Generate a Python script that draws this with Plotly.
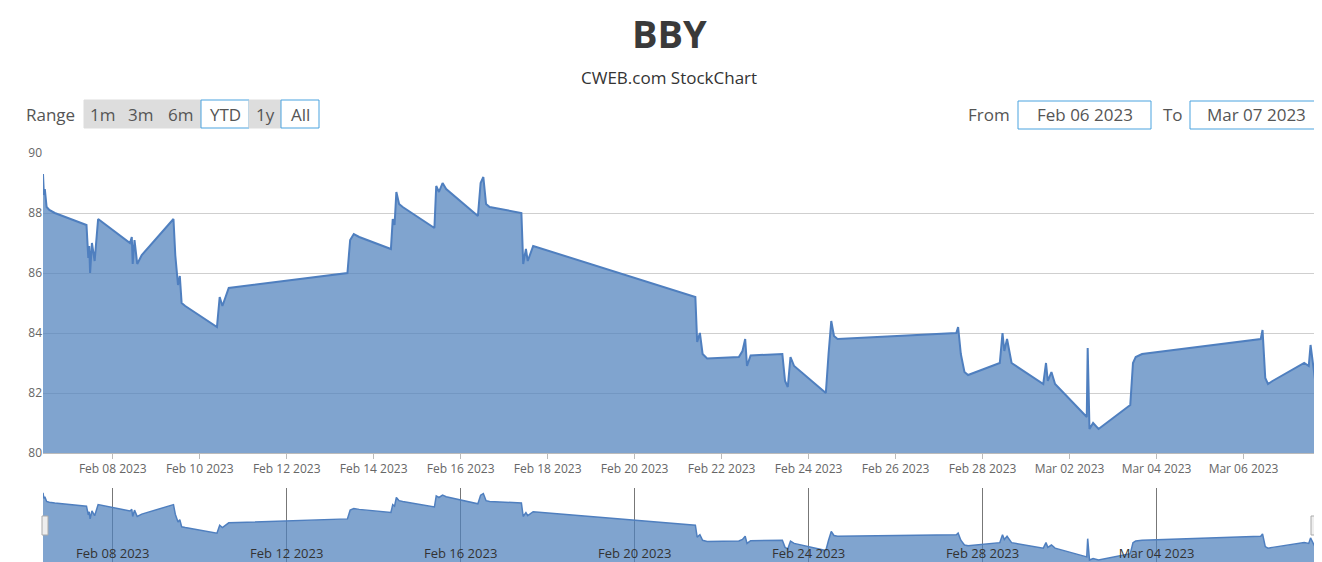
import plotly.graph_objects as go

days = {
 "2023-02-06": [("09:30",89.3),("10:00",88.6),("10:30",88.8),("11:30",88.2),("13:00",88.1),("16:00",88.0)],
 "2023-02-07": [("09:30",87.6),("10:30",86.5),("11:00",86.9),("11:30",86.0),("12:30",87.0),("14:00",86.4),("15:55",87.8)],
 "2023-02-08": [("09:30",87.0),("10:30",87.2),("11:00",86.3),("12:00",87.1),("13:30",86.3),("16:00",86.6)],
 "2023-02-09": [("09:30",87.8),("10:30",86.6),("12:00",85.6),("13:00",85.9),("14:00",85.0),("16:00",84.9)],
 "2023-02-10": [("09:30",84.2),("11:00",85.2),("12:30",84.9),("16:00",85.5)],
 "2023-02-13": [("09:30",86.0),("11:00",87.1),("13:00",87.3),("16:00",87.2)],
 "2023-02-14": [("09:30",86.8),("10:30",87.8),("11:30",87.6),("12:30",88.7),("14:00",88.3),("16:00",88.2)],
 "2023-02-15": [("09:30",87.5),("10:30",88.9),("12:00",88.7),("14:00",89.0),("16:00",88.8)],
 "2023-02-16": [("09:30",87.9),("11:00",89.0),("12:30",89.2),("14:00",88.3),("16:00",88.2)],
 "2023-02-17": [("09:30",88.0),("10:30",86.3),("12:00",86.8),("13:00",86.4),("16:00",86.9)],
 "2023-02-21": [("09:30",85.2),("10:30",83.7),("12:00",84.0),("13:30",83.3),("16:00",83.15)],
 "2023-02-22": [("09:30",83.2),("11:30",83.4),("13:00",83.8),("14:00",82.9),("16:00",83.25)],
 "2023-02-23": [("09:30",83.3),("11:00",82.4),("12:30",82.2),("14:00",83.2),("16:00",82.9)],
 "2023-02-24": [("09:30",82.0),("11:00",83.3),("12:30",84.4),("14:00",83.9),("16:00",83.8)],
 "2023-02-27": [("09:30",84.0),("10:30",84.2),("12:00",83.3),("14:00",82.7),("16:00",82.6)],
 "2023-02-28": [("09:30",83.0),("11:00",84.0),("12:00",83.4),("13:30",83.8),("16:00",83.0)],
 "2023-03-01": [("09:30",82.3),("11:00",83.0),("12:00",82.4),("14:00",82.7),("16:00",82.3)],
 "2023-03-02": [("09:30",81.2),("10:00",83.5),("11:00",80.8),("13:00",81.0),("16:00",80.8)],
 "2023-03-03": [("09:30",81.6),("11:00",83.0),("12:30",83.2),("16:00",83.3)],
 "2023-03-06": [("09:30",83.8),("10:30",84.1),("12:00",82.5),("13:30",82.3),("16:00",82.4)],
 "2023-03-07": [("09:30",83.0),("12:00",82.9),("13:00",83.6),("16:00",82.2)],
}
dates, prices = [], []
for d, pts in days.items():
    for t, v in pts:
        dates.append(f"{d} {t}")
        prices.append(v)

W, H = 1322, 562
L, R, T, B = 35, 1308, 145, 556
def px(x): return (x - L) / (R - L)
def py(y): return (B - y) / (B - T)

fig = go.Figure()
fig.add_trace(go.Scatter(x=dates, y=prices, mode="lines", fill="tozeroy",
    line=dict(color="#4f7fbf", width=2), fillcolor="rgba(79,129,189,0.72)",
    xaxis="x", yaxis="y", hoverinfo="x+y"))
fig.add_trace(go.Scatter(x=dates, y=prices, mode="lines", fill="tozeroy",
    line=dict(color="#4f7fbf", width=1.5), fillcolor="rgba(79,129,189,0.72)",
    xaxis="x2", yaxis="y2", hoverinfo="skip"))

xr = ["2023-02-06 09:30", "2023-03-07 16:00"]
fig.update_layout(
    width=W, height=H, paper_bgcolor="white", plot_bgcolor="white", showlegend=False,
    margin=dict(l=L, r=W - R, t=T, b=H - B, autoexpand=False),
    font=dict(family="Open Sans, DejaVu Sans", color="#555"),
    xaxis=dict(domain=[0, 1], anchor="y", range=xr, type="date", dtick=2*86400000,
               tick0="2023-02-08", tickformat="%b %d %Y", showgrid=False, showline=True,
               linecolor="#bbb", ticks="outside", ticklen=5, tickcolor="#bbb",
               automargin=False, tickfont=dict(size=12, color="#666")),
    yaxis=dict(domain=[py(445), 1], range=[80, 90], dtick=2, showgrid=True,
               gridcolor="#cfcfcf", zeroline=False, tickfont=dict(size=12, color="#666"),
               ticks="", showline=False, automargin=False),
    xaxis2=dict(domain=[0, 1], anchor="y2", range=xr, type="date", dtick=4*86400000,
                tick0="2023-02-08", tickformat="%b %d %Y", showgrid=True, gridcolor="#777",
                gridwidth=1, ticklabelposition="inside", ticks="", showline=False,
                automargin=False, tickfont=dict(size=13, color="#333")),
    yaxis2=dict(domain=[0, py(480)], range=[80.3, 89.9], visible=False, automargin=False),
)

def note(text, x, y, size, color="#555"):
    fig.add_annotation(text=text, xref="paper", yref="paper", x=px(x), y=py(y),
        xanchor="center", yanchor="middle", showarrow=False,
        font=dict(size=size, color=color))

note("<b>BBY</b>", 661, 25, 38, "#3a3a3a")
note("CWEB.com StockChart", 661, 69, 17, "#333")
note("Range", 42, 106, 17)
buttons = [("1m", 76, 113, False), ("3m", 113, 152, False), ("6m", 152, 193, False),
           ("YTD", 193, 241, True), ("1y", 241, 273, False), ("All", 273, 311, True)]
for lab, x0, x1, sel in buttons:
    fig.add_shape(type="rect", xref="paper", yref="paper", x0=px(x0), x1=px(x1),
        y0=py(120), y1=py(92), fillcolor="white" if sel else "#dddddd",
        line=dict(color="#4aa3df" if sel else "#dddddd", width=1))
    note(lab, (x0 + x1) / 2, 106, 17)

for lab, lx, x0, x1, val in [("From", 981, 1010, 1143, "Feb 06 2023"),
                             ("To", 1165, 1182, 1314, "Mar 07 2023")]:
    note(lab, lx, 106, 17)
    fig.add_shape(type="rect", xref="paper", yref="paper", x0=px(x0), x1=px(x1),
        y0=py(121), y1=py(93), fillcolor="white", line=dict(color="#4aa3df", width=1))
    note(val, (x0 + x1) / 2, 106, 17)

for hx in (37, 1306):
    fig.add_shape(type="rect", xref="paper", yref="paper", x0=px(hx - 3), x1=px(hx + 3),
        y0=py(527), y1=py(508), fillcolor="#eeeeee", line=dict(color="#aaa", width=1))

fig.write_html("out.html")
